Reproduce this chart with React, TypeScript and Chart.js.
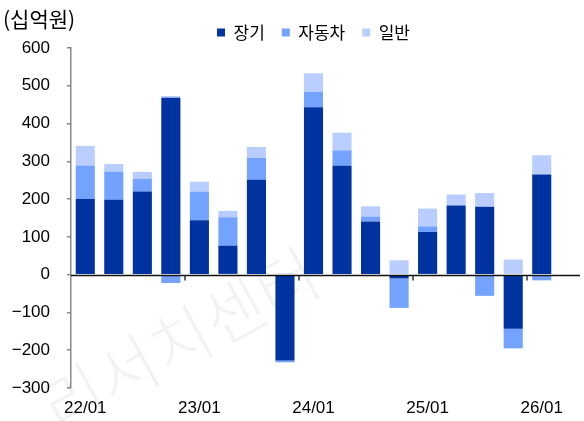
import React, { useEffect, useRef } from "react";
import { Chart, registerables } from "chart.js";

Chart.register(...registerables);

const categories = [
  "22/01", "22/04", "22/07", "22/10",
  "23/01", "23/04", "23/07", "23/10",
  "24/01", "24/04", "24/07", "24/10",
  "25/01", "25/04", "25/07", "25/10",
  "26/01",
];
const longTerm = [200, 198, 220, 468, 144, 77, 251, -227, 443, 288, 141, -10, 113, 183, 180, -143, 265];
const auto = [89, 75, 34, -22, 76, 75, 58, -5, 41, 41, 13, -78, 15, 0, -56, -52, -15];
const general = [52, 20, 18, 5, 26, 17, 29, 3, 49, 47, 27, 38, 47, 29, 36, 40, 51];
const seriesNames = ["장기", "자동차", "일반"];
const unitLabel = "(십억원)";
const watermark = "리서치센터";

const NUM_FONT = "'Liberation Sans Narrow', 'Liberation Sans', Arial, sans-serif";
const KR_FONT = "'Noto Sans CJK KR', 'Noto Sans', sans-serif";

export default function App() {
  const ref = useRef<HTMLCanvasElement | null>(null);

  useEffect(() => {
    if (!ref.current) return;

    const legendHeight = {
      id: "legendHeight",
      beforeInit(chart: any) {
        const lg = chart.legend;
        if (!lg) return;
        const orig = lg.fit;
        lg.fit = function () {
          orig.call(this);
          this.height = 41;
        };
      },
    };

    const watermarkPlugin = {
      id: "watermark",
      beforeDatasetsDraw(chart: any) {
        const ctx = chart.ctx;
        ctx.save();
        ctx.translate(180, 340);
        ctx.rotate(-0.5);
        ctx.font = `300 66px ${KR_FONT}`;
        ctx.fillStyle = "rgba(0,0,0,0.05)";
        ctx.textAlign = "center";
        ctx.textBaseline = "middle";
        ctx.fillText(watermark, 0, 0);
        ctx.restore();
      },
    };

    const zeroLine = {
      id: "zeroLine",
      afterDatasetsDraw(chart: any) {
        const ctx = chart.ctx;
        const x = chart.scales.x;
        const y = chart.scales.y;
        const y0 = Math.round(y.getPixelForValue(0)) + 0.5;
        const area = chart.chartArea;
        ctx.save();
        ctx.strokeStyle = "#111";
        ctx.lineWidth = 1.5;
        ctx.beginPath();
        ctx.moveTo(area.left, y0);
        ctx.lineTo(area.right + 24, y0);
        ctx.stroke();
        ctx.strokeStyle = "#333";
        for (let i = 4; i < categories.length; i += 4) {
          const bx = Math.round((x.getPixelForValue(i - 1) + x.getPixelForValue(i)) / 2);
          ctx.beginPath();
          ctx.moveTo(bx, y0);
          ctx.lineTo(bx, y0 + 5);
          ctx.stroke();
        }
        ctx.restore();
      },
    };

    const chart = new Chart(ref.current, {
      type: "bar",
      data: {
        labels: categories,
        datasets: [
          { label: seriesNames[0], data: longTerm, backgroundColor: "#0033A0" },
          { label: seriesNames[1], data: auto, backgroundColor: "#73A2FF" },
          { label: seriesNames[2], data: general, backgroundColor: "#B9CEFF" },
        ],
      },
      options: {
        responsive: false,
        animation: false,
        layout: { padding: { top: 7, left: 0, right: 28, bottom: 0 } },
        datasets: {
          bar: { barPercentage: 0.67, categoryPercentage: 1, borderWidth: 0 },
        },
        plugins: {
          tooltip: { enabled: false },
          title: { display: false },
          legend: {
            display: true,
            position: "top",
            fullSize: false,
            labels: {
              boxWidth: 8,
              boxHeight: 8,
              padding: 17,
              color: "#000",
              font: { family: KR_FONT, size: 17 },
            },
          },
        },
        scales: {
          x: {
            stacked: true,
            grid: { display: false, drawTicks: false },
            border: { display: false },
            afterFit(scale: any) {
              scale.height = 33;
            },
            ticks: {
              autoSkip: false,
              maxRotation: 0,
              minRotation: 0,
              padding: 10,
              color: "#000",
              font: { family: NUM_FONT, size: 17 },
              callback(_v: any, i: number) {
                return i % 4 === 0 ? categories[i] : "";
              },
            },
          },
          y: {
            stacked: true,
            min: -300,
            max: 600,
            afterFit(scale: any) {
              scale.width = 71;
            },
            grid: {
              drawOnChartArea: false,
              drawTicks: true,
              tickLength: 4,
              color: "#888",
              lineWidth: 1.5,
            },
            border: { display: true, color: "#888", width: 1.5 },
            ticks: {
              stepSize: 100,
              padding: 17,
              color: "#000",
              font: { family: NUM_FONT, size: 17 },
              callback(v: any) {
                const n = Number(v);
                return n < 0 ? "\u2212" + Math.abs(n) : String(n);
              },
            },
          },
        },
      },
      plugins: [legendHeight, watermarkPlugin, zeroLine],
    });

    return () => chart.destroy();
  }, []);

  return (
    <div style={{ position: "fixed", left: 0, top: 0, width: 584, height: 421, background: "#fff" }}>
      <div
        style={{
          position: "absolute",
          left: 3,
          top: 6,
          fontFamily: KR_FONT,
          fontSize: 21,
          lineHeight: "24px",
          color: "#000",
        }}
      >
        {unitLabel}
      </div>
      <canvas ref={ref} width={584} height={421} style={{ display: "block" }} />
    </div>
  );
}
